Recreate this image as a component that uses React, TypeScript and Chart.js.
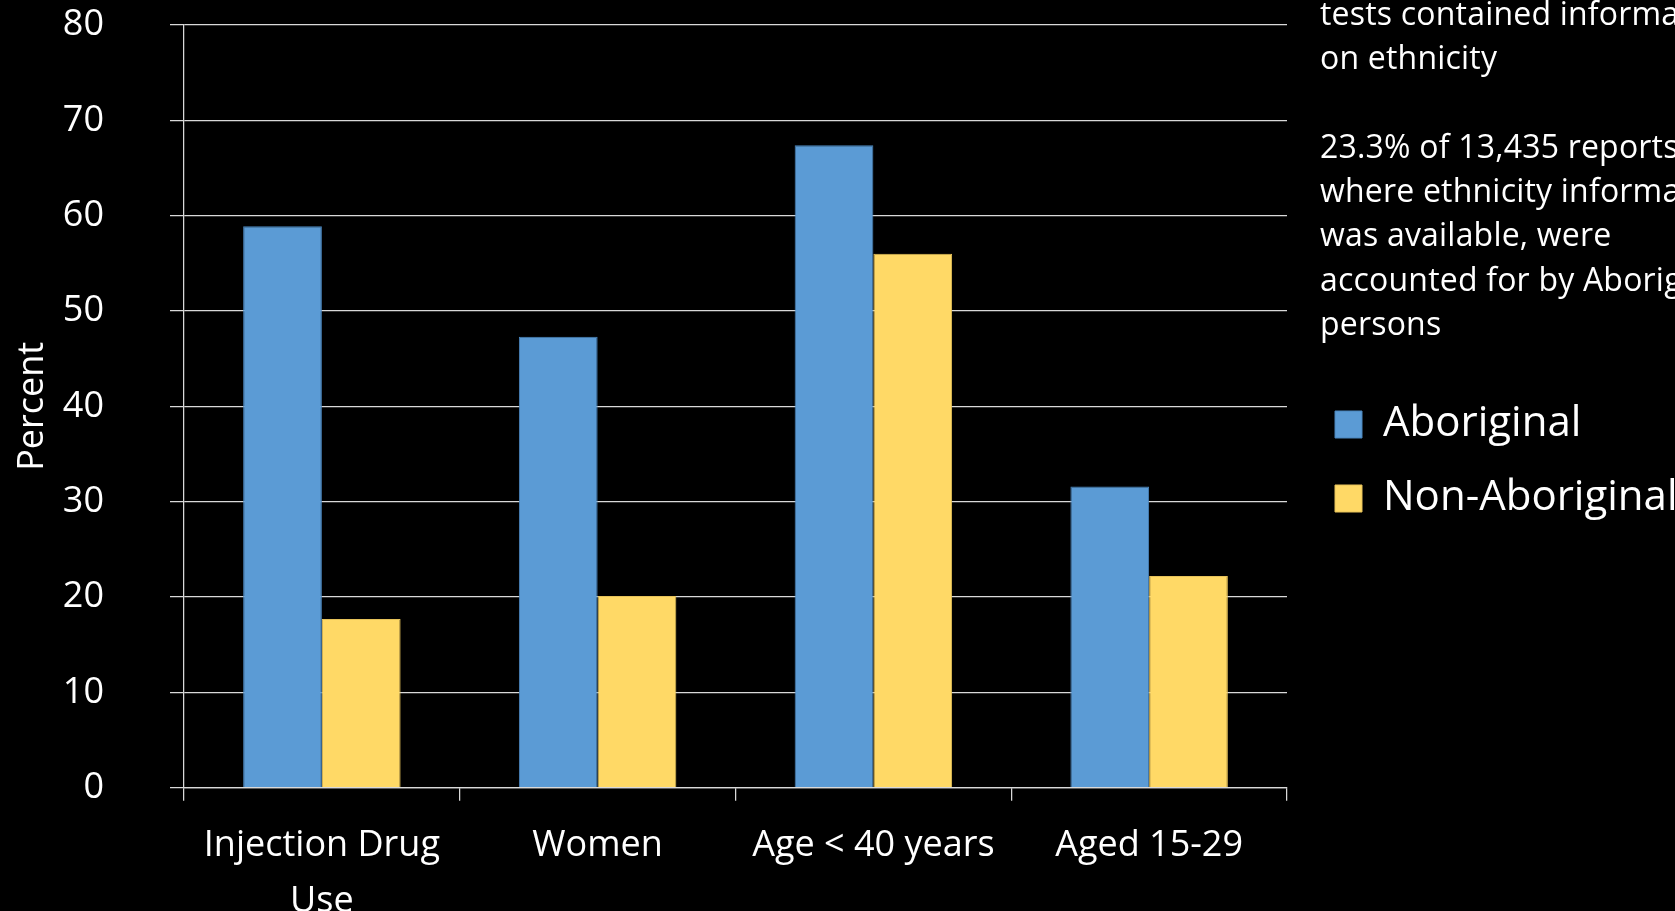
import React, { useEffect, useRef } from "react";
import { Chart, registerables } from "chart.js";

Chart.register(...registerables);

const categories: (string | string[])[] = [["Injection Drug", "Use"], "Women", "Age < 40 years", "Aged 15-29"];
const aboriginal = [58.9, 47.3, 67.4, 31.6];
const nonAboriginal = [17.7, 20.1, 56.0, 22.2];
const seriesNames = ["Aboriginal", "Non-Aboriginal"];
const yAxisTitle = "Percent";
const yMin = 0;
const yMax = 80;
const yStep = 10;
const noteLines = [
  "tests contained information",
  "on ethnicity",
  "",
  "23.3% of 13,435 reports",
  "where ethnicity information",
  "was available, were",
  "accounted for by Aboriginal",
  "persons",
];

const FONT = "'Open Sans', 'Noto Sans', sans-serif";
const GRID = "#D9D9D9";

export default function App() {
  const ref = useRef<HTMLCanvasElement | null>(null);

  useEffect(() => {
    document.body.style.margin = "0";
    document.body.style.background = "#000";
    if (!ref.current) return;
    Chart.defaults.font.family = FONT;
    const chart = new Chart(ref.current, {
      type: "bar",
      data: {
        labels: categories,
        datasets: [
          {
            label: seriesNames[0],
            data: aboriginal,
            backgroundColor: "#5B9BD5",
            borderColor: "#4A85BC",
            borderWidth: 1,
            categoryPercentage: 0.571,
            barPercentage: 1,
          },
          {
            label: seriesNames[1],
            data: nonAboriginal,
            backgroundColor: "#FFD966",
            borderColor: "#E6C25A",
            borderWidth: 1,
            categoryPercentage: 0.571,
            barPercentage: 1,
          },
        ],
      },
      options: {
        responsive: false,
        animation: false,
        layout: { padding: { top: 12, bottom: 0, left: 0, right: 0 } },
        plugins: {
          tooltip: { enabled: false },
          legend: {
            position: "right",
            align: "center",
            maxWidth: 372,
            labels: {
              color: "#FFFFFF",
              boxWidth: 27,
              boxHeight: 27,
              padding: 32,
              font: { family: FONT, size: 42 },
            },
          },
        },
        scales: {
          x: {
            grid: {
              offset: true,
              drawOnChartArea: false,
              drawTicks: true,
              tickLength: 13,
              color: GRID,
              lineWidth: 1.25,
            },
            border: { display: true, color: GRID, width: 1.25 },
            ticks: {
              color: "#FFFFFF",
              padding: 17,
              maxRotation: 0,
              autoSkip: false,
              font: { family: FONT, size: 36, lineHeight: "56px" },
            },
            afterFit: (s: any) => {
              s.height = 123.3;
              s.paddingLeft = 0;
              s.paddingRight = 0;
            },
          },
          y: {
            min: yMin,
            max: yMax,
            ticks: {
              stepSize: yStep,
              color: "#FFFFFF",
              padding: 66,
              font: { family: FONT, size: 36 },
            },
            grid: {
              color: GRID,
              lineWidth: 1.25,
              tickLength: 14,
              drawTicks: true,
            },
            border: { display: true, color: GRID, width: 1.25 },
            title: {
              display: true,
              text: yAxisTitle,
              color: "#FFFFFF",
              padding: { top: 11, bottom: 0 },
              font: { family: FONT, size: 36 },
            },
            afterFit: (s: any) => {
              s.width = 184;
              s.paddingTop = 25;
              s.paddingBottom = 0;
            },
          },
          gap: {
            type: "linear",
            position: "right",
            display: true,
            grid: { display: false },
            border: { display: false },
            ticks: { display: false },
            afterFit: (s: any) => {
              s.width = 16;
              s.paddingTop = 0;
              s.paddingBottom = 0;
            },
          },
        },
      } as any,
    });
    return () => chart.destroy();
  }, []);

  return (
    <div
      style={{
        position: "relative",
        width: 1675,
        height: 911,
        background: "#000",
        overflow: "hidden",
      }}
    >
      <canvas ref={ref} width={1675} height={911} style={{ display: "block" }} />
      <div
        style={{
          position: "absolute",
          left: 1320,
          top: -9,
          color: "#FFFFFF",
          fontFamily: FONT,
          fontSize: 32,
          letterSpacing: "0.2px",
          lineHeight: "44.3px",
          whiteSpace: "nowrap",
        }}
      >
        {noteLines.map((t, i) => (
          <div key={i} style={{ height: "44.3px" }}>
            {t || "\u00A0"}
          </div>
        ))}
      </div>
    </div>
  );
}
